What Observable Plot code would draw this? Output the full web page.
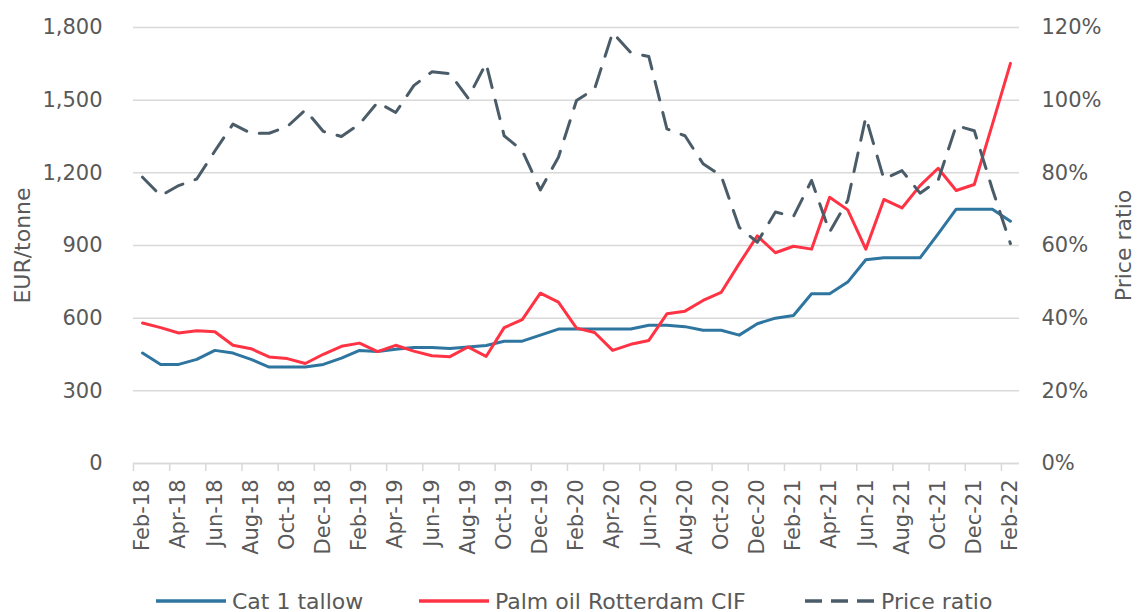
<!DOCTYPE html>
<html>
<head>
<meta charset="utf-8">
<script src="https://cdn.jsdelivr.net/npm/d3@7"></script>
<script src="https://cdn.jsdelivr.net/npm/@observablehq/plot@0.6"></script>
<style>
  body { margin: 0; background: #fff; font-family: "DejaVu Sans", sans-serif; }
  #chart { position: relative; width: 1137px; height: 612px; overflow: hidden; }
  #chart > svg { position: absolute; left: 0; top: 0; }
  #legend { position: absolute; top: 587px; left: 0; width: 1137px; height: 28px; }
  #legend .item { position: absolute; top: 0; height: 28px; display: flex; align-items: center;
          font-size: 22px; color: #595959; white-space: nowrap; }
  #legend .item svg { position: static; margin-right: 5px; display: block; }
</style>
</head>
<body>
<div id="chart"><div id="legend"></div></div>
<script>
// ---- data ----
const months = [
  "Feb-18","Mar-18","Apr-18","May-18","Jun-18","Jul-18","Aug-18","Sep-18","Oct-18","Nov-18","Dec-18",
  "Jan-19","Feb-19","Mar-19","Apr-19","May-19","Jun-19","Jul-19","Aug-19","Sep-19","Oct-19","Nov-19","Dec-19",
  "Jan-20","Feb-20","Mar-20","Apr-20","May-20","Jun-20","Jul-20","Aug-20","Sep-20","Oct-20","Nov-20","Dec-20",
  "Jan-21","Feb-21","Mar-21","Apr-21","May-21","Jun-21","Jul-21","Aug-21","Sep-21","Oct-21","Nov-21","Dec-21",
  "Jan-22","Feb-22"
];
// EUR/tonne
const tallow = [
  456,409,409,430,467,456,430,398,398,398,409,
  435,467,462,472,479,479,475,481,487,505,505,530,
  555,555,555,555,555,571,571,565,550,550,530,577,
  600,611,701,701,749,841,849,849,849,948,1050,1050,
  1050,1000
];
const palm = [
  580,561,539,548,544,488,474,440,433,413,451,
  484,497,462,488,464,445,441,481,442,561,594,703,
  666,559,541,467,492,508,618,629,673,706,825,940,
  870,897,885,1099,1047,885,1090,1055,1147,1219,1127,1152,
  1400,1652
];
// Price ratio, %
const ratio = [
  78.8,73.7,76.5,78.3,86.0,93.4,90.9,90.9,92.7,97.3,91.4,
  90.0,93.4,99.4,96.6,104.0,107.8,107.3,100.6,110.1,90.2,86.1,75.3,
  84.3,99.9,103.1,118.6,113.1,112.0,92.1,90.2,82.5,79.2,65.0,60.9,
  69.2,68.0,77.9,63.7,72.4,95.3,78.3,80.6,74.4,77.9,93.0,91.6,
  75.5,60.5
];
const leftTicks = [0, 300, 600, 900, 1200, 1500, 1800];
const ratioTicks = [0, 20, 40, 60, 80, 100, 120];

const seriesNames = ["Cat 1 tallow", "Palm oil Rotterdam CIF", "Price ratio"];
const colors = ["#2e75a0", "#ff3344", "#4b5c69"];

// secondary axis: 120% <-> 1800 EUR/tonne
const k = 1800 / 120;

const idx = months.map((m, i) => i);
const labelIdx = idx.filter(i => i % 2 === 0);
const edgeIdx = labelIdx.map(i => i - 0.5);

const fontFamily = "'DejaVu Sans', sans-serif";
const grey = "#595959";
const gridColor = "#d9d9d9";

const plot = Plot.plot({
  width: 1137,
  height: 575,
  marginLeft: 133,
  marginRight: 118,
  marginTop: 27,
  marginBottom: 112,
  x: { type: "linear", domain: [-0.5, months.length - 0.5], axis: null },
  y: { domain: [0, 1800], axis: null },
  style: { fontFamily, fontSize: "21px", color: grey, background: "white", overflow: "visible" },
  marks: [
    Plot.gridY(leftTicks, { stroke: gridColor, strokeOpacity: 1, strokeWidth: 1.5 }),
    Plot.ruleY([0], { stroke: gridColor, strokeWidth: 1.5 }),
    // category-boundary tick marks
    Plot.axisX(edgeIdx, { tickSize: 8, tickFormat: () => "", stroke: gridColor, strokeWidth: 1.5 }),
    // month labels
    Plot.axisX(labelIdx, {
      tickSize: 0, tickPadding: 16, tickRotate: -90,
      tickFormat: i => months[i], fontSize: 21, fill: grey, label: null
    }),
    Plot.axisY(leftTicks, {
      anchor: "left", tickSize: 0, tickPadding: 31,
      tickFormat: d3.format(","), fontSize: 21, fill: grey, label: null
    }),
    Plot.axisY(ratioTicks.map(r => r * k), {
      anchor: "right", tickSize: 0, tickPadding: 22,
      tickFormat: d => Math.round(d / k) + "%", fontSize: 21, fill: grey, label: null
    }),
    Plot.text(["EUR/tonne"], { frameAnchor: "left", textAnchor: "middle", dx: -111, rotate: -90, fontSize: 22, fill: grey }),
    Plot.text(["Price ratio"], { frameAnchor: "right", textAnchor: "middle", dx: 104, rotate: -90, fontSize: 22, fill: grey }),
    Plot.line(tallow, { x: (d, i) => i, y: d => d, stroke: colors[0], strokeWidth: 3 }),
    Plot.line(palm, { x: (d, i) => i, y: d => d, stroke: colors[1], strokeWidth: 3 }),
    Plot.line(ratio, { x: (d, i) => i, y: d => d * k, stroke: colors[2], strokeWidth: 3,
      strokeDasharray: "19,13", strokeLinecap: "round" })
  ]
});
const chart = document.getElementById("chart");
chart.insertBefore(plot, chart.firstChild);

// legend
const legend = document.getElementById("legend");
const legendLeft = [155, 418, 804];
seriesNames.forEach((name, i) => {
  const item = document.createElement("div");
  item.className = "item";
  item.style.left = legendLeft[i] + "px";
  const dash = i === 2 ? 'stroke-dasharray="17,9"' : "";
  item.innerHTML =
    `<svg width="72" height="6"><line x1="1" y1="3" x2="71" y2="3" stroke="${colors[i]}" stroke-width="3.5" ${dash}/></svg>` +
    `<span>${name}</span>`;
  legend.appendChild(item);
});
</script>
</body>
</html>
